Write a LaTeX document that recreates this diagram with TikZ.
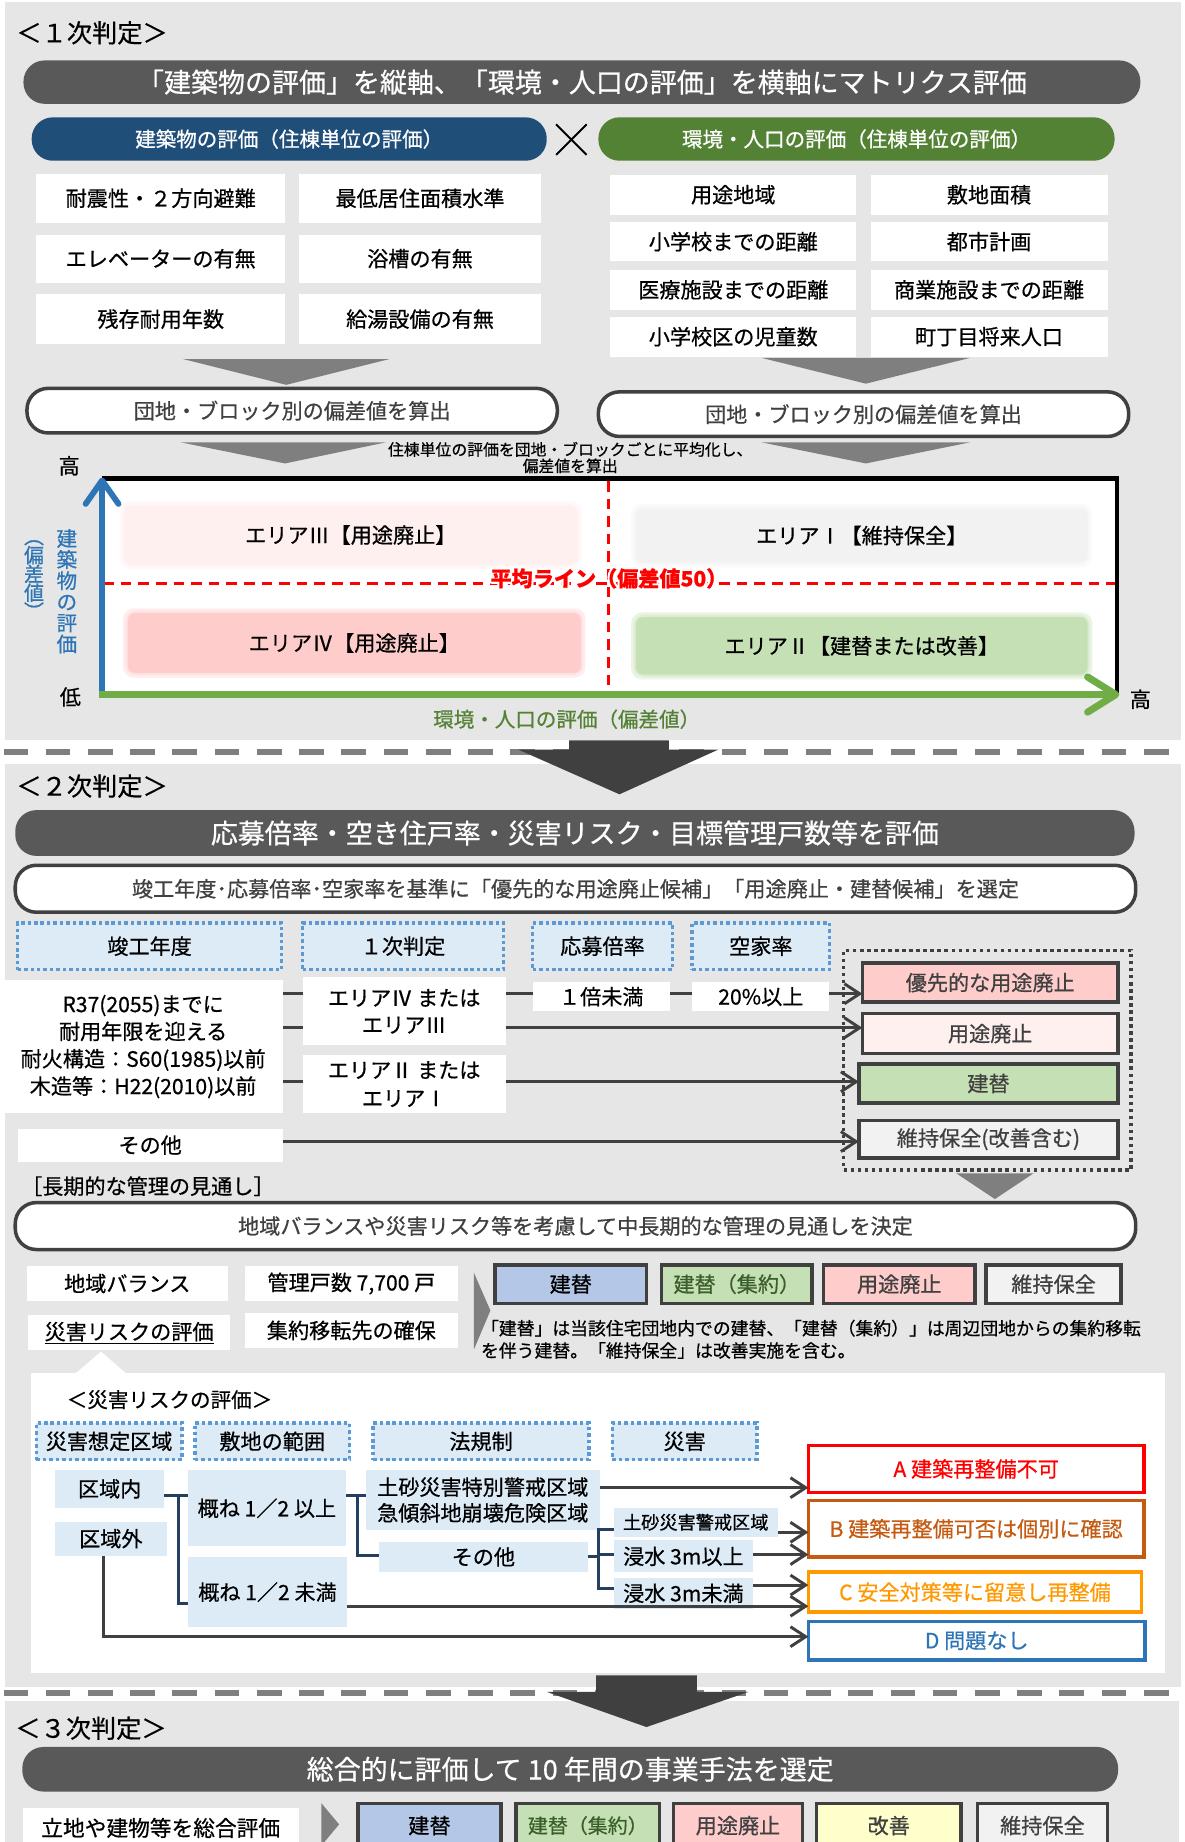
\documentclass[tikz,border=0pt]{standalone}
\usepackage{fontspec}
\setmainfont{Noto Sans CJK JP}[FakeBold=0.6]
\usetikzlibrary{arrows.meta,calc}
\definecolor{bggray}{HTML}{E6E6E6}
\definecolor{pillgray}{HTML}{595959}
\definecolor{navy}{HTML}{1F4E79}
\definecolor{leaf}{HTML}{548235}
\definecolor{line}{HTML}{404040}
\definecolor{chev}{HTML}{7F7F7F}
\definecolor{lblue}{HTML}{DDEBF7}
\definecolor{dblue}{HTML}{5B9BD5}
\definecolor{axisblue}{HTML}{2E75B6}
\definecolor{axisgreen}{HTML}{70AD47}
\definecolor{pinkA}{HTML}{FFCCCC}
\definecolor{pinkB}{HTML}{FFF0F0}
\definecolor{greenA}{HTML}{C5E0B4}
\definecolor{grayA}{HTML}{F2F2F2}
\definecolor{blueA}{HTML}{B4C7E7}
\definecolor{yellowA}{HTML}{FFFFCC}
\definecolor{treeline}{HTML}{243F60}
\definecolor{darkgreen}{HTML}{3A5F2A}
\definecolor{rA}{HTML}{FF0000}
\definecolor{rB}{HTML}{C55A11}
\definecolor{rC}{HTML}{FF9900}
\definecolor{rD}{HTML}{2E75B6}
\newcommand\fsz[1]{\fontsize{#1}{#1}\selectfont}
\newcommand\glowat[3]{\rlap{\hspace*{#1}\raisebox{#2}{\textcolor{white}{#3}}}}
\newcommand\glowtxt[1]{\glowat{1.8pt}{0pt}{#1}\glowat{-1.8pt}{0pt}{#1}\glowat{0pt}{1.8pt}{#1}\glowat{0pt}{-1.8pt}{#1}\glowat{1.3pt}{1.3pt}{#1}\glowat{-1.3pt}{1.3pt}{#1}\glowat{1.3pt}{-1.3pt}{#1}\glowat{-1.3pt}{-1.3pt}{#1}\textcolor{red}{#1}}
\tikzset{
  every node/.style={inner sep=0pt, outer sep=0pt},
  pill/.style={fill=pillgray, text=white, rounded corners=18pt, minimum height=37pt, font=\fsz{23}},
  opill/.style={draw=line, line width=3pt, fill=white, rounded corners=18pt, minimum height=38pt, text=line, font=\fsz{18}},
  wbox/.style={fill=white, text=black, font=\fsz{18}},
  hbox/.style={fill=lblue, draw=dblue, line width=3pt, dash pattern=on 3pt off 2.5pt, font=\fsz{18}},
  lbox/.style={fill=lblue, font=\fsz{18}},
  rbox/.style={draw=line, line width=3pt, text=line, font=\fsz{18}},
  obox/.style={draw=#1, text=#1, fill=white, line width=3pt, font=\fsz{18}},
  area/.style={rounded corners=6pt, font=\fsz{18}},
  conn/.style={draw=line, line width=2.5pt},
  arr/.style={conn, -{Straight Barb[length=13pt,width=17pt]}},
  tree/.style={draw=treeline, line width=2.5pt},
  sepline/.style={draw=chev, line width=5pt, dash pattern=on 21pt off 15pt},
  haze/.style={fill=#1, opacity=0.35, rounded corners=9pt},
}
\begin{document}
\begin{tikzpicture}[x=1pt,y=-1pt]
\useasboundingbox (0,0) rectangle (1010,1570);
\fill[white] (0,0) rectangle (1010,1570);
% ================= Section 1 =================
\fill[bggray] (4,2) rectangle (1007,631);
\node[anchor=west, font=\fsz{21.5}] (h1) at (14,28) {＜１次判定＞};
\node[pill, minimum width=952] (t1) at (496,70) {「建築物の評価」を縦軸、「環境・人口の評価」を横軸にマトリクス評価};
\node[pill, fill=navy, minimum width=439, font=\fsz{17.5}] (bp) at (246.5,118.5) {建築物の評価（住棟単位の評価）};
\draw[line width=1.6pt] (474,106) -- (500,132) (474,132) -- (500,106);
\node[pill, fill=leaf, minimum width=440, font=\fsz{17.5}] (gp) at (730,118.5) {環境・人口の評価（住棟単位の評価）};
% building items
\node[wbox, minimum width=212, minimum height=42] (b11) at (137,169) {耐震性・２方向避難};
\node[wbox, minimum width=206, minimum height=42] (b12) at (358,169) {最低居住面積水準};
\node[wbox, minimum width=212, minimum height=41] (b21) at (137,220.5) {エレベーターの有無};
\node[wbox, minimum width=206, minimum height=41] (b22) at (358,220.5) {浴槽の有無};
\node[wbox, minimum width=212, minimum height=42] (b31) at (137,272) {残存耐用年数};
\node[wbox, minimum width=206, minimum height=42] (b32) at (358,272) {給湯設備の有無};
% environment items
\node[wbox, minimum width=210, minimum height=34] (e11) at (625,166) {用途地域};
\node[wbox, minimum width=202, minimum height=34] (e12) at (843,166) {敷地面積};
\node[wbox, minimum width=210, minimum height=33] (e21) at (625,206) {小学校までの距離};
\node[wbox, minimum width=202, minimum height=33] (e22) at (843,206) {都市計画};
\node[wbox, minimum width=210, minimum height=34] (e31) at (625,247) {医療施設までの距離};
\node[wbox, minimum width=202, minimum height=34] (e32) at (843,247) {商業施設までの距離};
\node[wbox, minimum width=210, minimum height=34] (e41) at (625,287) {小学校区の児童数};
\node[wbox, minimum width=202, minimum height=34] (e42) at (843,287) {町丁目将来人口};
% chevrons
\fill[chev] (156,306) -- (332,306) -- (244,328) -- cycle;
\fill[chev] (649,305) -- (827,305) -- (738,327) -- cycle;
\node[opill, minimum width=452] (o1) at (249,350) {団地・ブロック別の偏差値を算出};
\node[opill, minimum width=452] (o2) at (736,353) {団地・ブロック別の偏差値を算出};
\fill[chev] (154,377) -- (329,377) -- (243,395) -- cycle;
\fill[chev] (649,377) -- (827,377) -- (738,395) -- cycle;
\node[align=center, font=\fontsize{13.5}{14}\selectfont] (avgnote) at (486,390) {住棟単位の評価を団地・ブロックごとに平均化し、\\偏差値を算出};
% matrix
\fill[white] (87,408) rectangle (952,592);
\foreach \cx/\cy/\w/\h/\c in {299/456/386/50/pinkB, 302/548/386/51/pinkA, 734.5/456.5/385/46/grayA, 734.5/550.5/385/49/greenA}{
  \fill[haze=\c] (\cx-\w/2-2,\cy-\h/2-2) rectangle (\cx+\w/2+2,\cy+\h/2+2);
  \fill[haze=\c] (\cx-\w/2-4,\cy-\h/2-4) rectangle (\cx+\w/2+4,\cy+\h/2+4);
}
\node[area, fill=pinkB, minimum width=386, minimum height=50] (a3) at (299,456) {エリアⅢ【用途廃止】};
\node[area, fill=pinkA, minimum width=386, minimum height=51] (a4) at (302,548) {エリアⅣ【用途廃止】};
\node[area, fill=grayA, minimum width=385, minimum height=46] (a1) at (734.5,456.5) {エリアⅠ【維持保全】};
\node[area, fill=greenA, minimum width=385, minimum height=49] (a2) at (734.5,550.5) {エリアⅡ【建替または改善】};
\draw[red, line width=2.5pt, dash pattern=on 9pt off 6pt] (88,497) -- (950,497);
\draw[red, line width=2.5pt, dash pattern=on 9pt off 6pt] (519,410) -- (519,590);
\node[font=\bfseries\fsz{18}] (avg) at (519,493) {\glowtxt{平均ライン（偏差値50）}};
\draw[line width=4pt] (87,408) -- (952,408) -- (952,591);
\draw[axisblue, line width=5pt, -{Straight Barb[length=20pt,width=28pt,round]}] (87,593) -- (87,407);
\draw[axisgreen, line width=6pt, -{Straight Barb[length=24pt,width=30pt,round]}] (84,592) -- (954,592);
\node[font=\fsz{18}] (hi1) at (59,397) {高};
\node[font=\fsz{18}] (lo1) at (60,594) {低};
\node[font=\fsz{18}] (hi2) at (972,596) {高};
\node[align=center, text=axisblue, font=\fontsize{17.5}{18}\selectfont] (vl1) at (57,504) {建\\築\\物\\の\\評\\価};
\node[align=center, text=axisblue, font=\fontsize{17}{16}\selectfont] (vl2) at (29,494) {︵\\偏\\差\\値\\︶};
\node[text=leaf, font=\fsz{17.5}] (xl) at (483,613) {環境・人口の評価（偏差値）};
% separator 1
\draw[sepline] (3,641) -- (1010,641);
% ================= Section 2 =================
\fill[bggray] (4,651) rectangle (1007,1438);
\fill[line] (485,631) -- (570,631) -- (570,639) -- (612,639) -- (528,677) -- (442,639) -- (485,639) -- cycle;
\node[anchor=west, font=\fsz{21.5}] (h2) at (14,670) {＜２次判定＞};
\node[pill, minimum width=954, minimum height=39] (t2) at (490,710) {応募倍率・空き住戸率・災害リスク・目標管理戸数等を評価};
\node[opill, minimum width=955, minimum height=40] (p2) at (490.5,757.5) {竣工年度･応募倍率･空家率を基準に「優先的な用途廃止候補」「用途廃止・建替候補」を選定};
\node[hbox, minimum width=225, minimum height=40] (hd1) at (127.5,806.5) {竣工年度};
\node[hbox, minimum width=171, minimum height=40] (hd2) at (343.5,806.5) {１次判定};
\node[hbox, minimum width=119, minimum height=40] (hd3) at (513.5,806.5) {応募倍率};
\node[hbox, minimum width=117, minimum height=40] (hd4) at (648.5,806.5) {空家率};
\node[draw=line, line width=3pt, dash pattern=on 3pt off 3pt, minimum width=245, minimum height=187] (grp) at (841.5,903.5) {};
\node[rbox, fill=pinkA, minimum width=218, minimum height=33] (r1) at (844,837.5) {優先的な用途廃止};
\node[rbox, fill=pinkB, minimum width=218, minimum height=34] (r2) at (844,881) {用途廃止};
\node[rbox, fill=greenA, minimum width=221, minimum height=33] (r3) at (842.5,923.5) {建替};
\node[rbox, fill=grayA, minimum width=221, minimum height=32] (r4) at (842.5,971) {維持保全(改善含む)};
\node[wbox, minimum width=238, minimum height=114, align=center, font=\fontsize{18}{23.3}\selectfont] (yr) at (122,892) {R37(2055)までに\\耐用年限を迎える\\耐火構造：S60(1985)以前\\木造等：H22(2010)以前};
\node[wbox, minimum width=173, minimum height=58, align=center, font=\fontsize{18}{23}\selectfont] (j1) at (344.5,862) {エリアⅣ\ または\\エリアⅢ};
\node[wbox, minimum width=173, minimum height=50, align=center, font=\fontsize{18}{24}\selectfont] (j2) at (344.5,924) {エリアⅡ\ または\\エリアⅠ};
\node[wbox, minimum width=226, minimum height=28] (oth) at (128,976) {その他};
\node[wbox, minimum width=117, minimum height=25] (ap) at (512.5,849.5) {１倍未満};
\node[wbox, minimum width=117, minimum height=25] (vr) at (648.5,849.5) {20\%以上};
\draw[conn] (yr.east |- 0,847) -- (j1.west |- 0,847);
\draw[conn] (j1.east |- 0,847) -- (ap.west |- 0,847);
\draw[conn] (ap.east |- 0,847) -- (vr.west |- 0,847);
\draw[arr] (vr.east |- 0,847) -- (r1.west |- 0,847);
\draw[conn] (yr.east |- 0,876) -- (j1.west |- 0,876);
\draw[arr] (j1.east |- 0,876) -- (r2.west |- 0,876);
\draw[conn] (yr.east |- 0,922) -- (j2.west |- 0,922);
\draw[arr] (j2.east |- 0,922) -- (r3.west |- 0,922);
\draw[arr] (oth.east |- 0,973) -- (r4.west |- 0,973);
\fill[chev] (815,1000) -- (881,1000) -- (848,1022) -- cycle;
\node[anchor=west, font=\fsz{18}] (lt) at (18,1011) {［長期的な管理の見通し］};
\node[opill, minimum width=955, minimum height=40] (p3) at (490.5,1045) {地域バランスや災害リスク等を考慮して中長期的な管理の見通しを決定};
\node[wbox, minimum width=171, minimum height=30] (f1) at (108.5,1094) {地域バランス};
\node[wbox, minimum width=181, minimum height=30] (f2) at (299.5,1094) {管理戸数 7,700 戸};
\node[wbox, minimum width=172, minimum height=30] (f3) at (110,1136) {\underline{災害リスクの評価}};
\node[wbox, minimum width=181, minimum height=30] (f4) at (299.5,1134) {集約移転先の確保};
\fill[chev] (404,1085) -- (418,1117) -- (404,1150) -- cycle;
\node[rbox, fill=blueA, minimum width=129, minimum height=33, text=black] (c1) at (486.5,1094.5) {建替};
\node[rbox, fill=greenA, minimum width=128, minimum height=33, text=darkgreen] (c2) at (628,1094.5) {建替（集約）};
\node[rbox, fill=pinkA, minimum width=129, minimum height=33] (c3) at (766.5,1094.5) {用途廃止};
\node[rbox, fill=grayA, minimum width=115, minimum height=33] (c4) at (898,1094.5) {維持保全};
\node[anchor=west, align=left, font=\fontsize{15.2}{19}\selectfont] (note) at (410,1141.5) {「建替」は当該住宅団地内での建替、「建替（集約）」は周辺団地からの集約移転\\を伴う建替。「維持保全」は改善実施を含む。};
% disaster risk panel
\fill[white] (26,1170) rectangle (993,1426);
\fill[white] (64,1171) -- (86,1152) -- (108,1171) -- cycle;
\node[anchor=west, font=\fsz{17.5}] (h4) at (57,1193) {＜災害リスクの評価＞};
\node[hbox, minimum width=124, minimum height=31] (d1) at (93,1228.5) {災害想定区域};
\node[hbox, minimum width=132, minimum height=31] (d2) at (232,1228.5) {敷地の範囲};
\node[hbox, minimum width=184, minimum height=31] (d3) at (410,1228.5) {法規制};
\node[hbox, minimum width=123, minimum height=31] (d4) at (583.5,1228.5) {災害};
\node[lbox, minimum width=93, minimum height=32] (z1) at (93.5,1269) {区域内};
\node[lbox, minimum width=95, minimum height=29] (z2) at (94.5,1311.5) {区域外};
\node[lbox, minimum width=135, minimum height=65] (s1) at (227.5,1285.5) {概ね 1／2 以上};
\node[lbox, minimum width=136, minimum height=60] (s2) at (228,1357) {概ね 1／2 未満};
\node[lbox, minimum width=199, minimum height=51, align=center, font=\fontsize{18}{22}\selectfont] (l1) at (411.5,1278.5) {土砂災害特別警戒区域\\急傾斜地崩壊危険区域};
\node[lbox, minimum width=178, minimum height=26] (l2) at (412,1327) {その他};
\node[lbox, minimum width=140, minimum height=25, font=\fsz{15.5}] (q1) at (593,1297.5) {土砂災害警戒区域};
\node[lbox, minimum width=119, minimum height=27] (q2) at (582.5,1326.5) {浸水 3m以上};
\node[lbox, minimum width=119, minimum height=26] (q3) at (582.5,1358) {浸水 3m未満};
\node[obox=rA, minimum width=286, minimum height=40] (ra) at (832,1252) {A\ 建築再整備不可};
\node[obox=rB, minimum width=286, minimum height=48] (rb) at (832,1303) {B\ 建築再整備可否は個別に確認};
\node[obox=rC, minimum width=284, minimum height=34] (rc) at (831,1357) {C\ 安全対策等に留意し再整備};
\node[obox=rD, minimum width=287, minimum height=33] (rd) at (832.5,1398.5) {D\ 問題なし};
\coordinate (k1) at (152,1275);
\coordinate (k2) at (305,1275);
\coordinate (k3) at (510,1304);
\draw[tree] (z1.east |- 0,1275) -- (s1.west |- 0,1275);
\draw[tree] (k1) -- (k1 |- 0,1367) -- (s2.west |- 0,1367);
\draw[tree] (s1.east |- 0,1275) -- (l1.west |- 0,1275);
\draw[tree] (k2) -- (k2 |- 0,1326) -- (l2.west |- 0,1326);
\draw[tree] (l2.east |- 0,1327) -- (k3 |- 0,1327);
\draw[tree] (q1.west |- 0,1304) -- (k3) -- (k3 |- 0,1354) -- (q3.west |- 0,1354);
\draw[tree] (k3 |- 0,1325) -- (q2.west |- 0,1325);
\draw[arr] (l1.east |- 0,1268) -- (ra.west |- 0,1268);
\draw[arr] (q1.east |- 0,1306) -- (rb.west |- 0,1306);
\draw[arr] (q2.east |- 0,1325) -- (rb.west |- 0,1325);
\draw[arr] (q3.east |- 0,1351) -- (rc.west |- 0,1351);
\draw[arr] (s2.east |- 0,1369) -- (rc.west |- 0,1369);
\draw[arr] (z2.south -| 88,0) -- (88,1395) -- (rd.west |- 0,1395);
% separator 2
\draw[sepline] (3,1443) -- (1010,1443);
% ================= Section 3 =================
\fill[bggray] (4,1450) rectangle (1005,1570);
\fill[line] (508,1428) -- (594,1428) -- (594,1442) -- (638,1442) -- (551,1472) -- (466,1442) -- (508,1442) -- cycle;
\node[anchor=west, font=\fsz{21.5}] (h3) at (13,1473) {＜３次判定＞};
\node[pill, minimum width=934, minimum height=38] (t3) at (486,1508) {総合的に評価して 10 年間の事業手法を選定};
\node[wbox, anchor=north, minimum width=235, minimum height=34, font=\fsz{18.5}] (g0) at (137,1541) {立地や建物等を総合評価};
\fill[chev] (274,1537) -- (289,1555) -- (274,1573) -- cycle;
\node[rbox, anchor=north, fill=blueA, text=black, minimum width=122, minimum height=38] (m1) at (366,1537) {建替};
\node[rbox, anchor=north, fill=greenA, text=darkgreen, minimum width=122, minimum height=38, font=\fsz{17}] (m2) at (501,1537) {建替（集約）};
\node[rbox, anchor=north, fill=pinkA, minimum width=110, minimum height=38] (m3) at (629,1537) {用途廃止};
\node[rbox, anchor=north, fill=yellowA, minimum width=123, minimum height=38] (m4) at (757.5,1537) {改善};
\node[rbox, anchor=north, fill=grayA, minimum width=111, minimum height=38] (m5) at (888.5,1537) {維持保全};
\end{tikzpicture}
\end{document}
